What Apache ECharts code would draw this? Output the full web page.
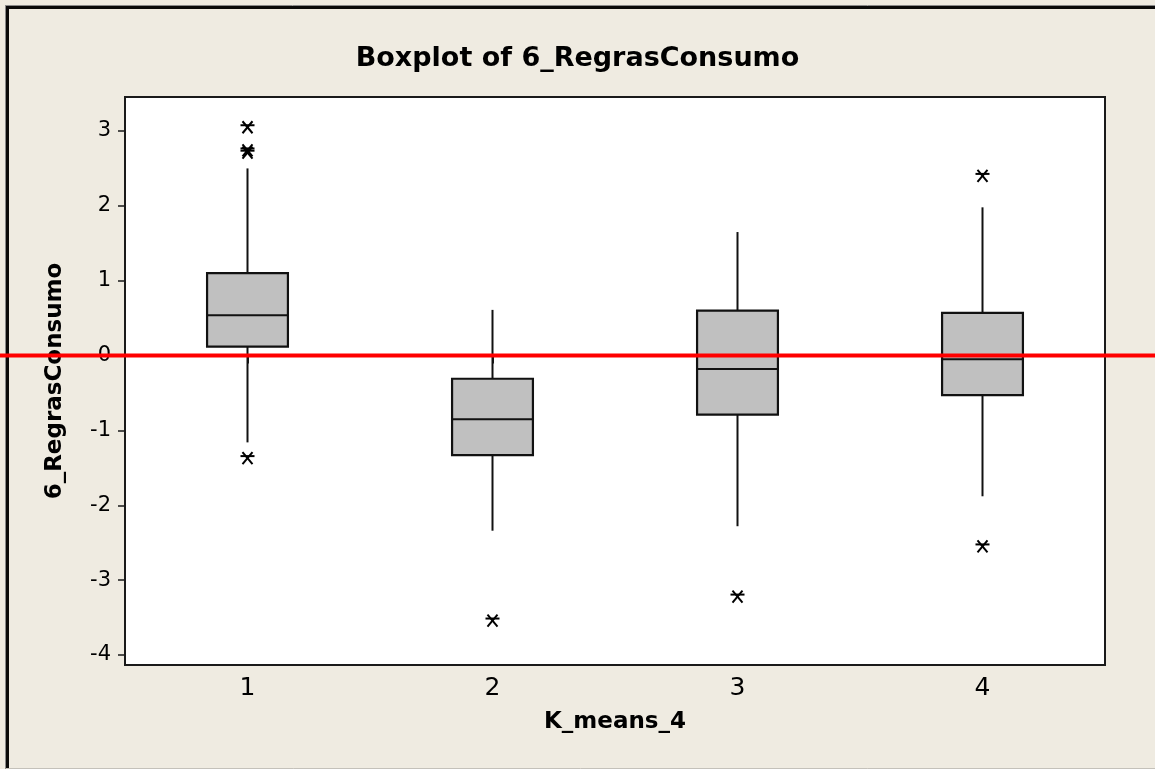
<!DOCTYPE html>
<html>
<head>
<meta charset="utf-8">
<title>Boxplot of 6_RegrasConsumo</title>
<script src="https://cdn.jsdelivr.net/npm/echarts@6/dist/echarts.min.js"></script>
<style>
  html, body { margin: 0; padding: 0; background: #EFEBE1; }
  #chart { width: 1155px; height: 769px; }
</style>
</head>
<body>
<div id="chart"></div>
<script>
// Cluster labels (K_means_4) on the category axis
const categories = ['1', '2', '3', '4'];

// Five-number summaries per cluster
const lowerWhisker = [-1.16, -2.34, -2.28, -1.88];
const q1 = [0.12, -1.33, -0.79, -0.53];
const median = [0.54, -0.85, -0.18, -0.05];
const q3 = [1.10, -0.31, 0.60, 0.57];
const upperWhisker = [2.50, 0.61, 1.65, 1.98];

// Outliers as [cluster index, value]
const outliers = [
  [0, 3.05], [0, 2.74], [0, 2.71], [0, -1.37],
  [1, -3.54],
  [2, -3.22],
  [3, 2.40], [3, -2.55]
];

// Value axis range and labelled ticks
const yMin = -4.134;
const yMax = 3.454;
const yTicks = [-4, -3, -2, -1, 0, 1, 2, 3];

// Horizontal reference level
const referenceLevel = 0;

const FONT = 'DejaVu Sans';

const boxData = categories.map((c, i) =>
  [i, lowerWhisker[i], q1[i], median[i], q3[i], upperWhisker[i]]);

// Box with plain whiskers (no end caps)
function renderBox(params, api) {
  const idx = api.value(0);
  const x = api.coord([idx, 0])[0];
  const half = api.size([1, 0])[0] * 0.165;
  const yLo = api.coord([idx, api.value(1)])[1];
  const yQ1 = api.coord([idx, api.value(2)])[1];
  const yMed = api.coord([idx, api.value(3)])[1];
  const yQ3 = api.coord([idx, api.value(4)])[1];
  const yHi = api.coord([idx, api.value(5)])[1];
  const ink = '#111';
  return {
    type: 'group',
    children: [
      { type: 'line', shape: { x1: x, y1: yHi, x2: x, y2: yQ3 }, style: { stroke: ink, lineWidth: 2 } },
      { type: 'line', shape: { x1: x, y1: yQ1, x2: x, y2: yLo }, style: { stroke: ink, lineWidth: 2 } },
      { type: 'rect', shape: { x: x - half, y: yQ3, width: 2 * half, height: yQ1 - yQ3 },
        style: { fill: '#C0C0C0', stroke: ink, lineWidth: 2.2 } },
      { type: 'line', shape: { x1: x - half, y1: yMed, x2: x + half, y2: yMed }, style: { stroke: ink, lineWidth: 2 } }
    ]
  };
}

// Asterisk marker for outliers
function renderStar(params, api) {
  const p = api.coord([api.value(0), api.value(1)]);
  const cx = p[0], cy = p[1];
  const st = { stroke: '#000', lineWidth: 2 };
  return {
    type: 'group',
    children: [
      { type: 'line', shape: { x1: cx - 7, y1: cy - 2, x2: cx + 7, y2: cy - 2 }, style: st },
      { type: 'line', shape: { x1: cx - 5, y1: cy - 6, x2: cx + 5, y2: cy + 6 }, style: st },
      { type: 'line', shape: { x1: cx + 5, y1: cy - 6, x2: cx - 5, y2: cy + 6 }, style: st }
    ]
  };
}

const chart = echarts.init(document.getElementById('chart'), null, { renderer: 'canvas' });

chart.setOption({
  backgroundColor: '#EFEBE1',
  animation: false,
  title: {
    text: 'Boxplot of 6_RegrasConsumo',
    left: 'center',
    top: 40,
    textStyle: { fontFamily: FONT, fontSize: 27, fontWeight: 'bold', color: '#000' }
  },
  grid: {
    left: 125, top: 97, right: 50, bottom: 104,
    show: true,
    backgroundColor: '#FFFFFF',
    borderColor: '#1a1a1a',
    borderWidth: 2
  },
  xAxis: {
    type: 'category',
    data: categories,
    boundaryGap: true,
    name: 'K_means_4',
    nameLocation: 'middle',
    nameGap: 46,
    nameTextStyle: { fontFamily: FONT, fontSize: 23, fontWeight: 'bold', color: '#000' },
    axisLine: { show: false },
    axisTick: { show: true, alignWithLabel: true, length: 8, lineStyle: { color: '#1a1a1a', width: 2 } },
    axisLabel: { margin: 11, fontFamily: FONT, fontSize: 25, color: '#000' },
    splitLine: { show: false }
  },
  yAxis: {
    type: 'value',
    min: yMin,
    max: yMax,
    name: '6_RegrasConsumo',
    nameLocation: 'middle',
    nameGap: 58,
    nameRotate: 90,
    nameTextStyle: { fontFamily: FONT, fontSize: 23, fontWeight: 'bold', color: '#000' },
    axisLine: { show: false },
    axisTick: { show: true, length: 7, customValues: yTicks, lineStyle: { color: '#1a1a1a', width: 1.5 } },
    axisLabel: { margin: 14, fontFamily: FONT, fontSize: 21, color: '#000', customValues: yTicks },
    splitLine: { show: false }
  },
  series: [
    {
      type: 'custom',
      name: 'boxes',
      renderItem: renderBox,
      encode: { x: 0, y: [1, 2, 3, 4, 5] },
      data: boxData,
      z: 3
    },
    {
      type: 'custom',
      name: 'outliers',
      renderItem: renderStar,
      encode: { x: 0, y: 1 },
      data: outliers,
      z: 4
    }
  ]
});

// Frame edges and the reference line at the zero level across the full width
const yRef = chart.convertToPixel({ yAxisIndex: 0 }, referenceLevel);
chart.setOption({
  graphic: [
    { type: 'line', shape: { x1: 5, y1: 5.5, x2: 1155, y2: 5.5 }, style: { stroke: '#8a8a8a', lineWidth: 1 }, z: 100 },
    { type: 'line', shape: { x1: 5.5, y1: 5, x2: 5.5, y2: 769 }, style: { stroke: '#8a8a8a', lineWidth: 1 }, z: 100 },
    { type: 'line', shape: { x1: 6, y1: 7.5, x2: 1155, y2: 7.5 }, style: { stroke: '#0a0a0a', lineWidth: 3 }, z: 100 },
    { type: 'line', shape: { x1: 7.5, y1: 6, x2: 7.5, y2: 769 }, style: { stroke: '#0a0a0a', lineWidth: 3 }, z: 100 },
    { type: 'line', shape: { x1: 6, y1: 768.5, x2: 1155, y2: 768.5 }, style: { stroke: '#c4c1ba', lineWidth: 1 }, z: 100 },
    { type: 'line', shape: { x1: 0, y1: yRef, x2: 1155, y2: yRef }, style: { stroke: '#FF0000', lineWidth: 4 }, z: 200 }
  ]
});
</script>
</body>
</html>
